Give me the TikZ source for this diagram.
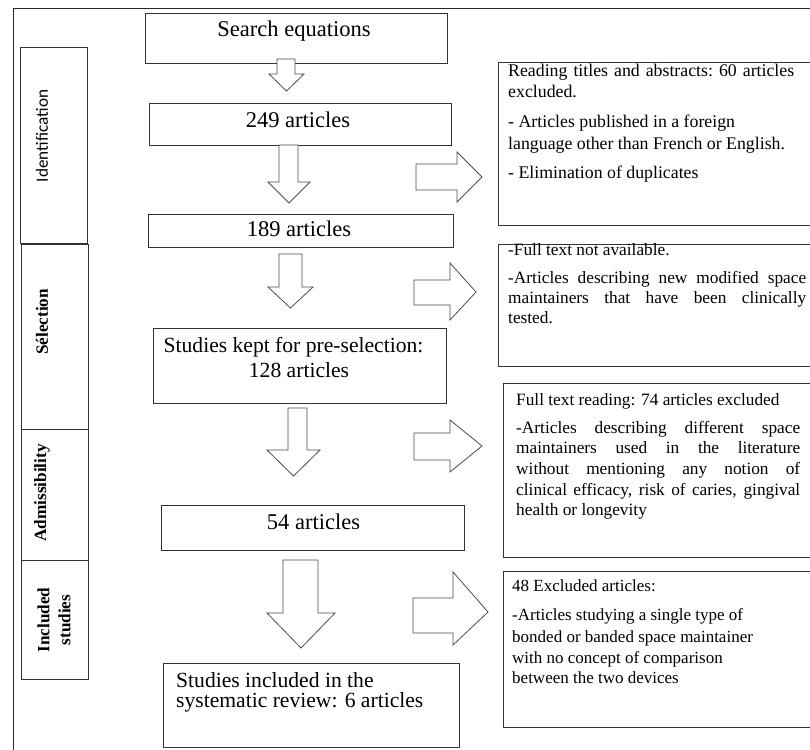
\documentclass[tikz,border=0pt]{standalone}
\usepackage{fontspec}
\setmainfont{Liberation Serif}
\newfontfamily\calfont{Carlito}
\begin{document}
\begin{tikzpicture}[x=1pt,y=-1pt,
  box/.style={draw=black!80, line width=0.9pt, fill=white, inner sep=0pt, outer sep=0pt, anchor=north west},
  blk/.style={draw=black!70, line width=0.8pt, fill=white, line join=miter},
  frame/.style={draw=black!85, line width=0.9pt},
  big/.style={font=\fontsize{22.5}{26}\selectfont, inner sep=0pt, anchor=base},
  mid/.style={font=\fontsize{21.6}{25}\selectfont, inner sep=0pt},
  rtxt/.style={inner sep=0pt, anchor=base west},
  side/.style={font=\bfseries\fontsize{17.2}{21}\selectfont, rotate=90, inner sep=0pt, align=center},
]
\useasboundingbox (0,0) rectangle (810,749);
\clip (0,0) rectangle (810,749);

% outer frame
\draw[frame] (13,760) -- (13,8) -- (820,8);

% side stage boxes
\node[box, minimum width=67pt, minimum height=196pt] (ident) at (20,47) {};
\node[box, minimum width=67pt, minimum height=185pt] (sel) at (21,244) {};
\node[box, minimum width=67pt, minimum height=131pt] (adm) at (21,429) {};
\node[box, minimum width=67pt, minimum height=119pt] (inc) at (21,560) {};
\node[rotate=90, inner sep=0pt, font=\calfont\fontsize{17.2}{21}\selectfont] (l-ident) at (42,136) {Identification};
\node[side] (l-sel) at (42,322) {Sélection};
\node[side] (l-adm) at (42,493) {Admissibility};
\node[side] (l-inc) at (54,620) {Included\\studies};

% main boxes
\node[box, minimum width=302pt, minimum height=50pt] (search) at (145,13) {};
\node[box, minimum width=302pt, minimum height=42pt] (b249) at (149,103) {};
\node[box, minimum width=305pt, minimum height=33pt] (b189) at (148,214) {};
\node[box, minimum width=293pt, minimum height=75pt] (kept) at (153,328) {};
\node[box, minimum width=303pt, minimum height=45pt] (b54) at (161,505) {};
\node[box, minimum width=296pt, minimum height=84pt] (incl) at (163,663) {};

\node[big] (t-search) at (294,37) {Search equations};
\node[big] (t-249) at (298,128) {249 articles};
\node[big] (t-189) at (299,236) {189 articles};
\node[mid, anchor=base] (t-kept1) at (293.5,352) {Studies kept for pre-selection:};
\node[mid, anchor=base] (t-kept2) at (299,377) {128 articles};
\node[big] (t-54) at (313.5,529) {54 articles};
\node[mid, anchor=base west] (t-incl1) at (176,687) {Studies included in the};
\node[mid, anchor=base west] (t-incl2) at (176,707) {systematic review: 6 articles};

% right boxes
\node[box, minimum width=320pt, minimum height=163pt] (r1) at (498,62) {};
\node[box, minimum width=320pt, minimum height=122pt] (r2) at (498,244) {};
\node[box, minimum width=315pt, minimum height=174pt] (r3) at (503,383) {};
\node[box, minimum width=315pt, minimum height=156pt] (r4) at (503,571) {};

\begin{scope}[font=\fontsize{17.8}{21}\selectfont]
\foreach \yy/\lt [count=\k] in {
  77/{\makebox[286pt][s]{Reading titles and abstracts:\ 60 articles}},
  98/{excluded.},
  128/{- Articles published\ in a foreign},
  149/{language other than French or English.},
  178/{- Elimination of duplicates}}
  \node[rtxt] (r1-\k) at (508,\yy) {\lt};
\end{scope}

\begin{scope}[font=\fontsize{17.3}{21}\selectfont]
\foreach \yy/\lt [count=\k] in {
  255/{-Full text not available.},
  283/{\makebox[298pt][s]{-Articles describing new modified space}},
  303/{\makebox[298pt][s]{maintainers that have been clinically}},
  323/{tested.}}
  \node[rtxt] (r2-\k) at (508,\yy) {\lt};
\foreach \yy/\lt [count=\k] in {
  405/{Full text reading: 74 articles excluded},
  433/{\makebox[284pt][s]{-Articles describing different space}},
  453/{\makebox[284pt][s]{maintainers used in the literature}},
  474/{\makebox[284pt][s]{without mentioning any notion of}},
  495/{\makebox[284pt][s]{clinical efficacy, risk of caries, gingival}},
  515/{health or longevity}}
  \node[rtxt] (r3-\k) at (516,\yy) {\lt};
\end{scope}

\begin{scope}[font=\fontsize{17}{21}\selectfont]
\foreach \yy/\lt [count=\k] in {
  591/{48 Excluded articles:},
  620/{-Articles studying a single type of},
  642/{bonded or banded space maintainer},
  663/{with no concept of comparison},
  683/{between the two devices}}
  \node[rtxt] (r4-\k) at (512,\yy) {\lt};
\end{scope}

% downward block arrows
\draw[blk] (277,59) -- (295,59) -- (295,74) -- (304,74) -- (286.5,91) -- (269,74) -- (277,74) -- cycle;
\draw[blk] (279,145) -- (298,145) -- (298,182) -- (310,182) -- (289,203) -- (268,182) -- (279,182) -- cycle;
\draw[blk] (279,254) -- (302,254) -- (302,287) -- (313,287) -- (290.5,308) -- (268,287) -- (279,287) -- cycle;
\draw[blk] (288,408) -- (307,408) -- (307,450) -- (320,450) -- (293.5,476) -- (267,450) -- (288,450) -- cycle;
\draw[blk] (283,560) -- (318,560) -- (318,613) -- (335,613) -- (301,648) -- (267,613) -- (283,613) -- cycle;

% rightward block arrows
\draw[blk] (416,164) -- (457,164) -- (457,152) -- (482,177) -- (457,202) -- (457,190) -- (416,190) -- cycle;
\draw[blk] (414,280) -- (450,280) -- (450,263) -- (476,292) -- (450,320) -- (450,305) -- (414,305) -- cycle;
\draw[blk] (414,433) -- (450,433) -- (450,420) -- (482,446) -- (450,472) -- (450,460) -- (414,460) -- cycle;
\draw[blk] (413,598) -- (453,598) -- (453,572) -- (488,612) -- (453,645) -- (453,633) -- (413,633) -- cycle;
\end{tikzpicture}
\end{document}
